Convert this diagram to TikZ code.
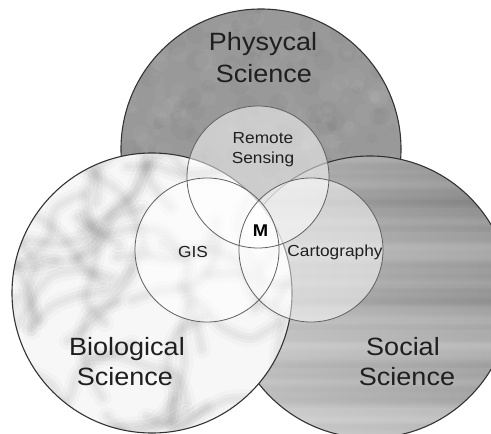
\documentclass[tikz,border=0pt]{standalone}
\usepackage{fontspec}
\usetikzlibrary{fadings}
\newfontfamily\labfont[FakeStretch=1.08]{Liberation Sans}
\begin{document}
\begin{tikzpicture}[x=1pt,y=-1pt,
  bigcirc/.style={draw=black!80, line width=1.1pt},
  smallcirc/.style={draw=black!62, line width=0.8pt},
  overlay/.style={fill=white, opacity=0.5},
  vein/.style={black, line cap=round, line join=round},
  bigtext/.style={font=\labfont\fontsize{25}{30}\selectfont, anchor=base, inner sep=0pt, text=black!88},
  smalltext/.style={font=\labfont\fontsize{16}{20}\selectfont, anchor=base, inner sep=0pt, text=black!88},
  boldtext/.style={font=\labfont\bfseries\fontsize{17}{20}\selectfont, anchor=base, inner sep=0pt, text=black},
]
\useasboundingbox (0,0) rectangle (491,434);
\clip (0,0) rectangle (491,434);
\fill[white] (0,0) rectangle (491,434);

\coordinate (phc) at (261,149);
\coordinate (soc) at (370,297);
\coordinate (bic) at (152,293);
\coordinate (rsc) at (258,177);
\coordinate (gic) at (207,250);
\coordinate (cac) at (311,250);

% Physical science
\begin{scope}
  \clip (phc) circle[radius=140pt];
  \fill[black!40] (110,0) rectangle (410,300);
  \pgfmathsetseed{7}
  \foreach \i in {1,...,160}{
    \pgfmathsetmacro\Px{115+rnd*295}
    \pgfmathsetmacro\Py{5+rnd*290}
    \pgfmathsetmacro\Pr{3+rnd*9}
    \fill[black,opacity=0.025] (\Px,\Py) circle[radius=\Pr pt];
  }
  \foreach \i in {1,...,160}{
    \pgfmathsetmacro\Px{115+rnd*295}
    \pgfmathsetmacro\Py{5+rnd*290}
    \pgfmathsetmacro\Pr{3+rnd*9}
    \fill[white,opacity=0.035] (\Px,\Py) circle[radius=\Pr pt];
  }
\end{scope}
\draw[bigcirc] (phc) circle[radius=140pt];

% Social science
\begin{scope}
  \clip (soc) circle[radius=141pt];
  \foreach \yy in {154,156,...,442}{
    \pgfmathsetmacro\G{int(round(44 - (\yy-154)*0.05 + 4*sin(\yy*4) + 2.5*sin(\yy*11+40) + 1.2*sin(\yy*29)))}
    \fill[black!\G] (225,\yy) rectangle (520,\yy+2.3);
  }
  \fill[white,opacity=0.35,path fading=east] (225,150) rectangle (500,440);
\end{scope}
\draw[bigcirc] (soc) circle[radius=141pt];

% Biological science
\begin{scope}
  \clip (bic) circle[radius=140pt];
  \fill[black!3] (0,140) rectangle (300,440);
  \pgfmathsetseed{5}
  \foreach \i in {1,...,48}{
    \pgfmathsetmacro\Ax{0+rnd*305}
    \pgfmathsetmacro\Ay{145+rnd*295}
    \pgfmathsetmacro\An{rnd*360}
    \pgfmathsetmacro\Bx{\Ax+30*cos(\An)}
    \pgfmathsetmacro\By{\Ay+30*sin(\An)}
    \pgfmathsetmacro\An{\An+(rnd-0.5)*110}
    \pgfmathsetmacro\Cx{\Bx+30*cos(\An)}
    \pgfmathsetmacro\Cy{\By+30*sin(\An)}
    \pgfmathsetmacro\An{\An+(rnd-0.5)*110}
    \pgfmathsetmacro\Dx{\Cx+30*cos(\An)}
    \pgfmathsetmacro\Dy{\Cy+30*sin(\An)}
    \pgfmathsetmacro\An{\An+(rnd-0.5)*110}
    \pgfmathsetmacro\Ex{\Dx+30*cos(\An)}
    \pgfmathsetmacro\Ey{\Dy+30*sin(\An)}
    \draw[vein,opacity=0.02,line width=18pt] plot[smooth] coordinates {(\Ax,\Ay) (\Bx,\By) (\Cx,\Cy) (\Dx,\Dy) (\Ex,\Ey)};
    \draw[vein,opacity=0.03,line width=10pt] plot[smooth] coordinates {(\Ax,\Ay) (\Bx,\By) (\Cx,\Cy) (\Dx,\Dy) (\Ex,\Ey)};
    \draw[vein,opacity=0.02,line width=4pt] plot[smooth] coordinates {(\Ax,\Ay) (\Bx,\By) (\Cx,\Cy) (\Dx,\Dy) (\Ex,\Ey)};
  }
\end{scope}
\draw[bigcirc] (bic) circle[radius=140pt];

% small circles
\fill[overlay] (rsc) circle[radius=71pt];
\fill[overlay] (gic) circle[radius=72pt];
\fill[overlay] (cac) circle[radius=72pt];
\draw[smallcirc] (rsc) circle[radius=71pt];
\draw[smallcirc] (gic) circle[radius=72pt];
\draw[smallcirc] (cac) circle[radius=72pt];

% labels
\node[bigtext] (phys1) at (263,50) {Physycal};
\node[bigtext] (phys2) at (264,82) {Science};
\node[smalltext] (rs1) at (263,143) {Remote};
\node[smalltext] (rs2) at (263,163) {Sensing};
\node[smalltext] (gis) at (193,257) {GIS};
\node[boldtext] (m) at (260.5,236) {M};
\node[smalltext] (carto) at (335,256) {Cartography};
\node[bigtext] (bio1) at (127,355) {Biological};
\node[bigtext] (bio2) at (125,385) {Science};
\node[bigtext] (soc1) at (403,355) {Social};
\node[bigtext] (soc2) at (407,385) {Science};
\end{tikzpicture}
\end{document}
